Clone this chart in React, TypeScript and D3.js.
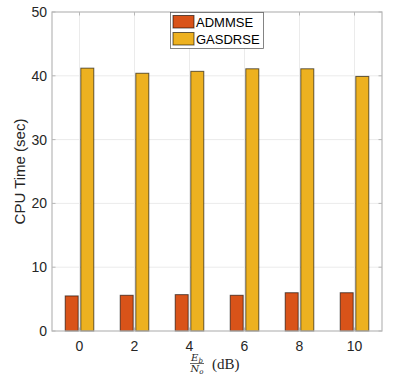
import React, { useEffect, useRef } from "react";
import * as d3 from "d3";

const snrLabels = ["0", "2", "4", "6", "8", "10"];
const admmse = [5.5, 5.6, 5.7, 5.6, 6.0, 6.0];
const gasdrse = [41.2, 40.4, 40.7, 41.1, 41.1, 39.9];
const seriesNames = ["ADMMSE", "GASDRSE"];
const seriesColors = ["#D95319", "#EDB120"];
const yTicks = [0, 10, 20, 30, 40, 50];

const App = () => {
  const ref = useRef<SVGSVGElement>(null);

  useEffect(() => {
    const svg = d3.select(ref.current);
    svg.selectAll("*").remove();

    const left = 52, right = 382, top = 12, bottom = 331;
    const font = "'Liberation Sans', Arial, sans-serif";
    const axisColor = "#b8b8b8";

    const x = d3.scalePoint<string>().domain(snrLabels).range([left, right]).padding(0.5);
    const y = d3.scaleLinear().domain([0, 50]).range([bottom, top]);

    svg.append("rect").attr("x", 0).attr("y", 0).attr("width", 415).attr("height", 380).attr("fill", "#fff");

    // grid
    const grid = svg.append("g").attr("stroke", "#ebebeb").attr("stroke-width", 1);
    yTicks.slice(1, -1).forEach((t) => {
      grid.append("line").attr("x1", left).attr("x2", right).attr("y1", y(t)).attr("y2", y(t));
    });
    snrLabels.forEach((s) => {
      grid.append("line").attr("x1", x(s)!).attr("x2", x(s)!).attr("y1", top).attr("y2", bottom);
    });

    // bars
    const barW = 13;
    const offset = 7.8;
    const series = [admmse, gasdrse];
    series.forEach((vals, si) => {
      svg
        .append("g")
        .selectAll("rect")
        .data(vals)
        .enter()
        .append("rect")
        .attr("x", (d, i) => x(snrLabels[i])! + (si === 0 ? -offset : offset) - barW / 2)
        .attr("y", (d) => y(d))
        .attr("width", barW)
        .attr("height", (d) => y(0) - y(d))
        .attr("fill", seriesColors[si])
        .attr("stroke", "#000")
        .attr("stroke-opacity", 0.6)
        .attr("stroke-width", 1);
    });

    // axes box
    svg
      .append("rect")
      .attr("x", left)
      .attr("y", top)
      .attr("width", right - left)
      .attr("height", bottom - top)
      .attr("fill", "none")
      .attr("stroke", axisColor)
      .attr("stroke-width", 1.2);

    // inward ticks
    const ticks = svg.append("g").attr("stroke", axisColor).attr("stroke-width", 1);
    yTicks.forEach((t) => {
      ticks.append("line").attr("x1", left).attr("x2", left + 3.5).attr("y1", y(t)).attr("y2", y(t));
      ticks.append("line").attr("x1", right).attr("x2", right - 3.5).attr("y1", y(t)).attr("y2", y(t));
    });
    snrLabels.forEach((s) => {
      ticks.append("line").attr("x1", x(s)!).attr("x2", x(s)!).attr("y1", bottom).attr("y2", bottom - 3.5);
      ticks.append("line").attr("x1", x(s)!).attr("x2", x(s)!).attr("y1", top).attr("y2", top + 3.5);
    });

    // tick labels
    yTicks.forEach((t) => {
      svg
        .append("text")
        .attr("x", left - 5)
        .attr("y", y(t))
        .attr("dy", "0.35em")
        .attr("text-anchor", "end")
        .attr("font-family", font)
        .attr("font-size", 14)
        .attr("fill", "#262626")
        .text(t);
    });
    snrLabels.forEach((s) => {
      svg
        .append("text")
        .attr("x", x(s)!)
        .attr("y", bottom + 20)
        .attr("text-anchor", "middle")
        .attr("font-family", font)
        .attr("font-size", 14)
        .attr("fill", "#262626")
        .text(s);
    });

    // y label
    svg
      .append("text")
      .attr("transform", `translate(25,${(top + bottom) / 2}) rotate(-90)`)
      .attr("text-anchor", "middle")
      .attr("font-family", font)
      .attr("font-size", 15)
      .attr("fill", "#262626")
      .text("CPU Time (sec)");

    // x label: Eb/No (dB)
    const xl = svg.append("g").attr("fill", "#262626").attr("font-family", "'DejaVu Serif', 'Liberation Serif', serif");
    const fx = 197;
    const num = xl.append("text").attr("x", fx).attr("y", 361).attr("text-anchor", "middle").attr("font-size", 10).attr("font-style", "italic");
    num.append("tspan").text("E");
    num.append("tspan").attr("font-size", 7).attr("dy", 2).text("b");
    xl.append("line").attr("x1", fx - 7).attr("x2", fx + 7).attr("y1", 363.5).attr("y2", 363.5).attr("stroke", "#262626").attr("stroke-width", 0.7);
    const den = xl.append("text").attr("x", fx).attr("y", 372).attr("text-anchor", "middle").attr("font-size", 10).attr("font-style", "italic");
    den.append("tspan").text("N");
    den.append("tspan").attr("font-size", 7).attr("dy", 2).text("o");
    xl.append("text").attr("x", fx + 15).attr("y", 369).attr("font-size", 15).attr("font-family", "'Liberation Serif', serif").text("(dB)");

    // legend
    const lg = svg.append("g");
    lg.append("rect").attr("x", 170.5).attr("y", 12.5).attr("width", 93).attr("height", 36).attr("fill", "#fff").attr("stroke", "#262626").attr("stroke-opacity", 0.7).attr("stroke-width", 0.8);
    seriesNames.forEach((n, i) => {
      lg.append("rect").attr("x", 173).attr("y", 15.5 + i * 17).attr("width", 21).attr("height", 12.5).attr("fill", seriesColors[i]).attr("stroke", "#000").attr("stroke-opacity", 0.6).attr("stroke-width", 1);
      lg.append("text").attr("x", 196).attr("y", 22 + i * 17).attr("dy", "0.35em").attr("font-family", font).attr("font-size", 13).attr("fill", "#000").text(n);
    });
  }, []);

  return <svg ref={ref} width={415} height={380} style={{ display: "block", position: "absolute", left: 0, top: 0 }} />;
};

export default App;
